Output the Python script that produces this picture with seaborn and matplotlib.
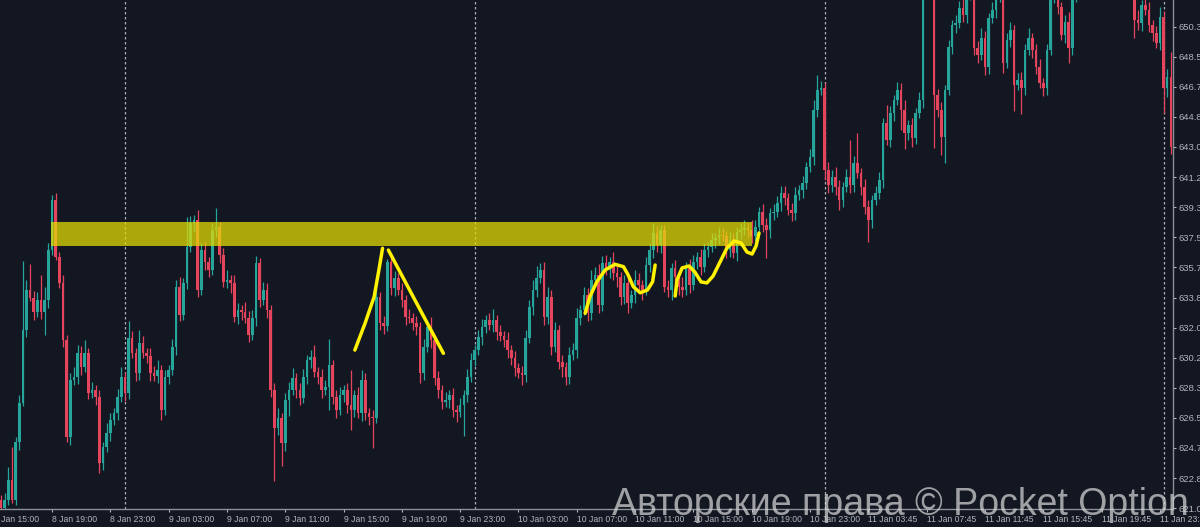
import matplotlib
matplotlib.use("Agg")
import matplotlib.pyplot as plt
from matplotlib.patches import Rectangle
import numpy as np
import pandas as pd
import seaborn as sns

# ---------------- data (15-minute candles, index based) ----------------
first_open = 621.55
closes = [
    621.06, 621.55, 622.77, 621.55, 625.08, 627.46, 631.90, 634.34, 633.85, 633.00,
    633.73, 633.00, 633.73, 636.77, 639.82, 636.35, 634.77, 631.29, 625.39, 628.86,
    629.04, 630.50, 629.65, 630.50, 628.07, 628.25, 627.82, 623.80, 624.78, 625.63,
    626.42, 626.85, 627.82, 629.04, 628.07, 631.42, 630.50, 629.28, 631.11, 630.50,
    630.32, 629.28, 629.10, 629.47, 627.03, 629.04, 629.47, 630.87, 634.52, 632.82,
    634.77, 636.96, 638.42, 638.60, 634.34, 636.77, 636.04, 635.56, 637.99, 638.18,
    636.47, 634.83, 634.95, 634.77, 632.69, 633.12, 633.00, 632.63, 631.60, 632.63,
    635.98, 633.73, 634.34, 633.12, 628.25, 625.93, 626.54, 625.02, 627.64, 628.25,
    628.98, 628.25, 627.76,
    629.04, 630.08, 630.26, 629.35, 629.04, 628.25, 628.43,
    629.77, 627.82, 627.03, 627.94, 628.25, 627.34, 627.03, 627.94, 626.85, 628.86,
    626.85, 626.60, 626.54, 633.91, 632.33, 632.15, 636.04, 634.46, 635.07, 634.34,
    633.73, 632.69, 632.63, 632.33, 632.09, 629.28, 630.87, 632.09, 631.29, 628.98,
    628.25, 627.52, 627.64, 627.94, 627.03, 626.91, 627.34, 627.94, 629.04, 630.08,
    630.68, 631.48, 632.09, 632.51, 632.21, 632.51, 631.78, 631.54, 631.29, 630.68,
    630.20, 629.59, 629.28, 629.16, 631.42, 633.30, 634.34, 635.07, 635.56, 632.69,
    633.91, 630.87, 631.90, 629.95, 629.65, 629.04, 630.38, 630.68, 632.63, 633.12,
    634.03, 632.94, 634.95, 635.25, 633.43,
    635.98, 635.56, 636.04, 635.37, 635.13,
    633.91, 634.77, 633.55, 634.03, 634.95, 634.64, 634.34, 635.86, 636.77, 637.81,
    637.08, 637.99, 634.52, 634.34, 635.68, 635.13, 634.52, 634.34, 635.74, 634.64,
    636.04, 636.35, 635.74, 636.77, 636.96, 637.38, 637.51, 637.69, 637.63, 636.77,
    637.38, 636.59, 637.87, 637.99, 638.11, 637.99, 637.63, 638.18, 639.09, 638.30,
    637.99, 639.03, 639.09, 639.64, 640.25, 639.94, 639.21, 639.03, 640.12, 640.43,
    640.86, 641.83, 642.44, 645.30, 646.52, 646.64, 641.65, 640.73, 641.22, 640.61,
    639.82, 640.61, 641.22, 640.73, 642.07, 641.46, 640.61, 639.39, 638.60, 639.82,
    640.25, 641.04, 644.51, 643.47, 645.12, 645.91, 646.52,
    645.30, 643.90, 644.39, 643.60, 645.12, 645.91, 652.61, 653.83, 653.22,
    646.21, 645.30, 643.66, 646.52, 649.14, 650.48, 650.60, 651.51, 651.09, 652.30,
    653.22, 649.08, 648.65, 649.69, 647.92, 650.90, 651.39, 652.30, 653.22, 648.16,
    649.56, 650.17, 646.82, 647.13, 646.64, 648.95, 649.69, 648.95, 647.92, 646.95,
    646.64, 648.95, 652.30, 652.91, 651.57, 649.87, 650.66, 649.08, 652.18, 652.61,
    652.91, 653.22, 654.13, 653.71, 654.44, 653.95, 653.52, 654.31, 654.74, 653.83,
    653.34, 654.13, 653.71, 653.10, 652.61, 650.78, 650.60, 651.70, 651.39, 650.48,
    649.99, 649.38, 650.96, 646.64, 647.31, 643.05,
]
upper_wicks = [
    0.3, 0.4, 0.8, 2.0, 0.3, 0.5, 4.2, 0.6, 1.6, 0.4,
    0.5, 1.5, 0.8, 0.4, 0.3, 0.4, 0.3, 0.5, 0.3, 0.4,
    0.6, 0.5, 0.4, 0.8, 0.3, 0.5, 0.3, 0.4, 0.3, 0.6,
    0.4, 0.3, 0.5, 0.6, 0.3, 1.0, 0.4, 0.3, 0.8, 0.4,
    0.3, 0.5, 0.4, 0.6, 0.3, 0.4, 0.3, 0.5, 0.4, 0.6,
    0.3, 1.8, 0.4, 0.3, 0.6, 0.4, 0.5, 0.3, 0.4, 1.15,
    0.3, 0.4, 0.6, 0.3, 0.5, 0.4, 0.3, 0.6, 0.4, 0.5,
    0.4, 0.3, 0.5, 0.4, 0.3, 0.4, 0.6, 0.3, 0.4, 0.5,
    0.6, 0.3, 0.4, 0.5, 0.3, 0.4, 0.7, 0.3, 0.5, 0.4,
    1.6, 0.3, 0.4, 0.5, 0.3, 0.4, 2.1, 0.3, 0.5, 0.6,
    0.4, 0.3, 0.4, 0.5, 0.3, 0.4, 0.2, 0.5, 0.4, 0.3,
    0.4, 0.3, 0.5, 0.3, 0.4, 0.3, 0.5, 0.4, 0.6, 0.3,
    0.4, 0.3, 0.5, 0.3, 0.4, 0.3, 0.4, 0.3, 0.5, 0.4,
    0.3, 0.4, 0.5, 0.3, 0.4, 0.7, 0.3, 0.4, 0.3, 0.5,
    0.3, 0.4, 0.3, 0.4, 0.5, 0.4, 0.6, 0.7, 0.4, 0.5,
    0.6, 0.4, 0.5, 0.3, 0.4, 0.3, 0.5, 0.4, 0.6, 0.3,
    0.5, 0.4, 0.6, 0.5, 0.7, 0.4, 0.5, 0.3, 0.6, 0.4,
    0.3, 0.5, 0.4, 0.3, 0.6, 0.4, 0.3, 0.5, 0.4, 0.6,
    0.4, 0.3, 0.3, 0.4, 0.3, 0.5, 0.4, 0.6, 0.3, 0.5,
    0.4, 0.3, 0.5, 0.4, 0.3, 0.4, 0.3, 0.5, 0.4, 0.3,
    0.5, 0.4, 0.3, 0.4, 0.5, 0.3, 0.6, 0.4, 0.3, 0.5,
    0.4, 0.3, 0.5, 0.4, 0.4, 0.4, 0.3, 0.4, 0.5, 0.3,
    0.4, 0.3, 0.5, 0.6, 0.9, 0.4, 0.3, 0.5, 0.4, 0.6,
    0.4, 0.3, 0.5, 2.25, 0.4, 1.8, 0.3, 0.5, 0.4, 0.3,
    0.4, 0.5, 0.3, 1.1, 0.4, 0.3, 0.5, 0.4, 0.6, 0.3,
    0.4, 0.3, 0.5, 0.6, 0.4, 0.5, 0.3, 0.4, 0.5, 0.3,
    0.4, 0.3, 0.5, 0.4, 0.6, 0.4, 0.5, 0.3, 0.4, 0.6,
    0.4, 0.3, 0.5, 0.4, 0.3, 0.6, 0.4, 0.5, 0.3, 0.4,
    0.5, 0.4, 0.6, 0.3, 0.4, 0.5, 0.3, 0.4, 0.6, 0.4,
    0.5, 0.3, 0.4, 0.6, 0.4, 0.3, 0.5, 0.4, 0.6, 0.3,
    0.4, 0.5, 0.3, 0.4, 0.6, 0.4, 0.3, 0.5, 0.4, 0.3,
    0.5, 0.4, 0.6, 0.3, 0.4, 0.5, 0.3, 0.4, 0.6, 0.4,
    0.5, 1.5,
]
lower_wicks = [
    0.2, 0.3, 0.3, 0.2, 0.3, 0.5, 0.2, 0.4, 0.2, 0.5,
    0.3, 0.4, 1.4, 0.5, 0.3, 0.2, 0.3, 0.4, 0.3, 0.5,
    0.3, 0.4, 0.5, 0.3, 0.4, 0.3, 0.5, 0.6, 0.4, 0.3,
    0.5, 0.3, 0.4, 0.3, 0.5, 0.4, 0.3, 0.5, 0.4, 0.3,
    0.4, 0.5, 0.3, 0.4, 0.6, 0.3, 0.4, 0.3, 0.5, 0.4,
    0.3, 0.4, 0.3, 0.5, 0.4, 0.3, 0.5, 0.4, 0.3, 0.4,
    0.5, 0.3, 0.4, 0.6, 0.3, 0.4, 0.5, 0.3, 0.4, 0.3,
    0.5, 0.4, 0.3, 0.5, 0.4, 3.2, 0.4, 1.4, 0.5, 1.0,
    0.3, 0.5, 0.4, 0.3, 0.4, 0.5, 0.3, 0.4, 0.5, 0.3,
    1.4, 0.4, 0.5, 0.3, 0.4, 0.5, 1.2, 0.4, 0.3, 0.5,
    0.4, 0.5, 1.8, 0.3, 0.4, 0.5, 0.3, 0.4, 0.5, 0.3,
    0.4, 0.5, 0.3, 0.4, 0.5, 0.6, 0.4, 0.3, 0.5, 0.4,
    0.5, 0.4, 0.3, 0.5, 0.4, 0.6, 0.3, 1.9, 0.4, 0.3,
    0.4, 0.3, 0.5, 0.4, 0.3, 0.4, 0.5, 0.3, 0.4, 0.5,
    0.4, 0.5, 0.3, 0.6, 0.4, 0.3, 0.5, 0.4, 0.3, 0.5,
    0.4, 0.5, 0.3, 0.4, 0.6, 0.5, 0.4, 0.3, 0.5, 0.4,
    0.3, 0.5, 0.4, 0.3, 0.5, 0.4, 0.3, 0.5, 0.4, 0.6,
    0.5, 0.4, 0.6, 0.3, 0.5, 0.4, 0.6, 0.3, 0.4, 0.5,
    0.4, 0.5, 0.3, 0.4, 0.6, 0.3, 0.5, 0.4, 0.3, 0.5,
    0.3, 0.4, 0.5, 0.3, 0.4, 0.3, 0.5, 0.4, 0.3, 0.5,
    0.4, 0.3, 0.5, 0.4, 0.3, 0.5, 0.4, 0.3, 0.4, 0.4,
    1.7, 0.5, 0.4, 0.3, 0.5, 0.4, 0.3, 0.5, 0.4, 0.3,
    0.5, 0.4, 0.3, 0.5, 0.4, 0.3, 0.6, 0.5, 0.4, 0.5,
    0.6, 0.4, 0.3, 0.5, 0.4, 0.3, 0.5, 0.4, 1.35, 0.5,
    0.3, 0.4, 0.5, 0.3, 0.4, 0.5, 0.3, 1.2, 1.0, 0.4,
    0.55, 0.4, 0.3, 0.5, 0.4, 0.3, 3.2, 0.4, 1.1, 1.6,
    0.3, 0.4, 0.5, 0.3, 0.4, 0.5, 0.3, 0.4, 0.5, 0.3,
    0.5, 0.4, 0.3, 0.5, 0.4, 0.6, 0.3, 0.4, 1.6, 0.3,
    1.6, 0.4, 0.3, 0.5, 0.4, 0.3, 0.5, 0.4, 0.3, 0.5,
    0.4, 0.3, 0.5, 0.9, 0.4, 0.3, 0.5, 0.4, 0.3, 0.5,
    0.4, 0.3, 0.5, 0.4, 0.3, 0.5, 0.4, 0.3, 0.5, 0.4,
    0.3, 1.1, 0.4, 0.5, 0.3, 0.4, 0.5, 0.3, 0.4, 1.5,
    0.55, 0.4,
]

time_tick_pos = [14, 30, 46, 62, 78, 94, 110, 126, 142, 158,
                 174, 190, 206, 222, 238, 254, 270, 286, 302, 318]
time_tick_labels = ["8 Jan 19:00", "8 Jan 23:00", "9 Jan 03:00", "9 Jan 07:00",
                    "9 Jan 11:00", "9 Jan 15:00", "9 Jan 19:00", "9 Jan 23:00",
                    "10 Jan 03:00", "10 Jan 07:00", "10 Jan 11:00", "10 Jan 15:00",
                    "10 Jan 19:00", "10 Jan 23:00", "11 Jan 03:45", "11 Jan 07:45",
                    "11 Jan 11:45", "11 Jan 15:45", "11 Jan 19:45", "11 Jan 23:45"]
first_tick_pos = -2
first_tick_label = "8 Jan 15:00"
day_separators = [34, 130, 226, 319]

price_ticks = [621.05, 622.88, 624.72, 626.55, 628.38, 630.22, 632.05, 633.88,
               635.71, 637.55, 639.38, 641.21, 643.05, 644.88, 646.71, 648.54, 650.38]
price_tick_labels = ["621.0", "622.8", "624.7", "626.5", "628.3", "630.2", "632.0", "633.8",
                     "635.7", "637.5", "639.3", "641.2", "643.0", "644.8", "646.7", "648.5",
                     "650.3"]

zone_start, zone_end = 13.7, 206.1
zone_low, zone_high = 637.02, 638.48

# hand-drawn annotations (candle index, price)
stroke_up_x = [97.1, 99.9, 102.4, 103.7, 104.7]
stroke_up_y = [630.68, 632.31, 633.93, 635.56, 636.88]
stroke_down_x = [106.3, 113.1, 121.4]
stroke_down_y = [636.77, 633.93, 630.48]
wave1_x = [160.3, 161.6, 163.5, 165.8, 168.5, 170.8, 172.1, 173.5, 175.4, 177.4, 178.8, 179.5]
wave1_y = [632.92, 633.93, 634.84, 635.56, 635.90, 635.76, 635.25, 634.54, 634.17, 634.34, 634.84, 635.86]
wave2_x = [185.0, 185.5, 186.9, 188.8, 190.4, 192.1, 193.7, 195.4, 197.3, 199.2, 201.2,
           203.1, 204.7, 206.1, 207.2, 208.0]
wave2_y = [633.97, 634.95, 635.68, 635.80, 635.43, 634.83, 634.77, 635.19, 636.04, 636.90,
           637.32, 637.20, 636.65, 636.53, 637.02, 637.81]

watermark = "Авторские права © Pocket Option"

# ---------------- build table ----------------
n = len(closes)
assert len(upper_wicks) == n and len(lower_wicks) == n, (n, len(upper_wicks), len(lower_wicks))
opens = [first_open] + closes[:-1]
df = pd.DataFrame({"idx": np.arange(n), "open": opens, "close": closes,
                   "uw": upper_wicks, "lw": lower_wicks})
df["top"] = df[["open", "close"]].max(axis=1)
df["bot"] = df[["open", "close"]].min(axis=1)
df["high"] = df["top"] + df["uw"]
df["low"] = df["bot"] - df["lw"]
df["body"] = (df["top"] - df["bot"]).clip(lower=0.06)

BG = "#131722"
GREEN = "#26a69a"
RED = "#e5455c"
AXC = "#8c9099"
TXT = "#b2b5be"
df["color"] = np.where(df["close"] >= df["open"], GREEN, RED)

sns.set_theme(style="dark", rc={"axes.facecolor": BG, "figure.facecolor": BG,
                                "axes.edgecolor": AXC})
plt.rcParams["font.family"] = ["Liberation Sans", "DejaVu Sans"]

fig = plt.figure(figsize=(12, 5.27), dpi=100)
ax = fig.add_axes([0, 18 / 527, 1173 / 1200, 509 / 527])
ax.set_facecolor(BG)

for xs in day_separators:
    ax.axvline(xs, color="#c9ccd3", lw=0.9, ls=(0, (2, 2)), alpha=0.85, zorder=1)

ax.vlines(df["idx"], df["low"], df["high"], colors=df["color"], linewidth=0.9, zorder=2)
ax.bar(df["idx"], df["body"], bottom=df["bot"], width=0.72, color=df["color"],
       linewidth=0, zorder=3)

ax.add_patch(Rectangle((zone_start, zone_low), zone_end - zone_start, zone_high - zone_low,
                       facecolor="#e3dc05", alpha=0.74, linewidth=0, zorder=4))

for xs, ys in [(stroke_up_x, stroke_up_y), (stroke_down_x, stroke_down_y),
               (wave1_x, wave1_y), (wave2_x, wave2_y)]:
    ax.plot(xs, ys, color="#fff200", lw=2.5, solid_capstyle="round",
            solid_joinstyle="round", zorder=5)

ax.set_xlim(-0.27, 321.6)
ax.set_ylim(621.0, 652.0)

for s in ["left", "top"]:
    ax.spines[s].set_visible(False)
for s in ["right", "bottom"]:
    ax.spines[s].set_color(AXC)
    ax.spines[s].set_linewidth(1.0)

ax.yaxis.tick_right()
ax.set_yticks(price_ticks)
ax.set_yticklabels(price_tick_labels)
ax.set_xticks(time_tick_pos)
ax.set_xticklabels(time_tick_labels)
ax.tick_params(axis="y", colors=TXT, length=2.5, width=0.8, pad=1.2, labelsize=6.8,
               direction="out", right=True, left=False)
ax.tick_params(axis="x", colors=TXT, length=2.5, width=0.8, pad=1.5, labelsize=6.2,
               direction="out", bottom=True)
for lab in ax.get_xticklabels():
    lab.set_ha("left")
ax.grid(False)

ax.annotate(first_tick_label, xy=(first_tick_pos, 0), xycoords=("data", "axes fraction"),
            xytext=(0, -4), textcoords="offset points", ha="left", va="top",
            fontsize=6.2, color=TXT, annotation_clip=False)

fig.text(612 / 1200, 12 / 527, watermark, fontsize=27, color="#d6d6d6", alpha=0.72,
         ha="left", va="baseline", family=["Liberation Sans", "DejaVu Sans"])

fig.savefig("out.png", dpi=100, facecolor=BG)
